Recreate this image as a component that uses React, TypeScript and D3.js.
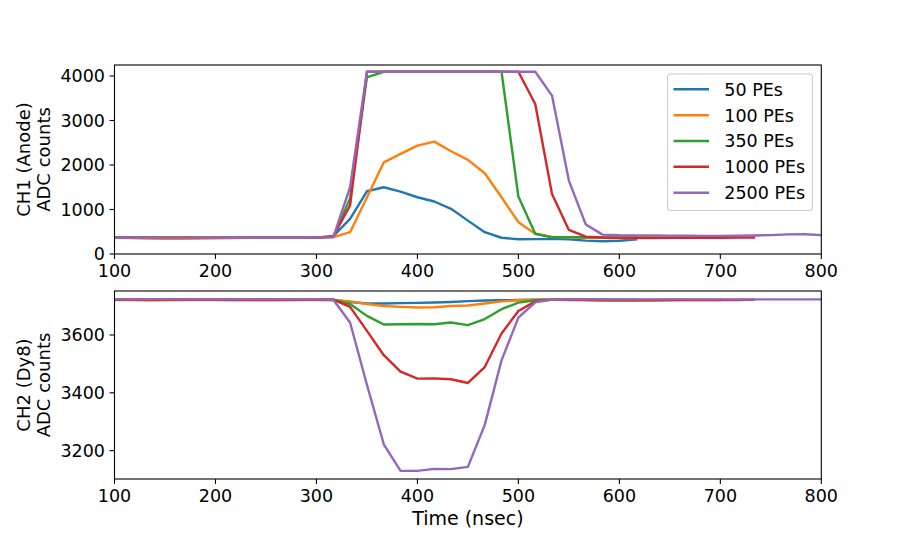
import React from 'react';
import * as d3 from 'd3';

// sample times (nsec), 60 MHz sampling
const times = [
  100, 116.7, 133.3, 150, 166.7, 183.3, 200, 216.7, 233.3, 250, 266.7, 283.3, 300,
  316.7, 333.3, 350, 366.7, 383.3, 400, 416.7, 433.3, 450, 466.7, 483.3, 500,
  516.7, 533.3, 550, 566.7, 583.3, 600, 616.7, 633.3, 650, 666.7, 683.3, 700,
  716.7, 733.3, 750, 766.7, 783.3, 800,
];

const labels = ['50 PEs', '100 PEs', '350 PEs', '1000 PEs', '2500 PEs'];
const colors = ['#1f77b4', '#ff7f0e', '#2ca02c', '#d62728', '#9467bd'];

// CH1 (anode) ADC counts
const ch1_50 = [
  370, 368, 366, 365, 364, 362, 362, 364, 365, 366, 366, 366, 368,
  400, 790, 1410, 1500, 1400, 1275, 1180, 1015, 750, 490, 365, 330, 335,
  340, 330, 300, 285, 297, 330,
];
const ch1_100 = [
  365, 360, 345, 340, 340, 345, 352, 360, 365, 366, 366, 366, 368,
  378, 490, 1270, 2060, 2250, 2435, 2525, 2310, 2115, 1815, 1275, 715, 455, 385,
  370, 365, 362, 360, 360, 360, 362, 365, 368, 370,
];
const ch1_350 = [
  368, 368, 367, 366, 366, 366, 367, 368, 368, 368, 368, 368, 370,
  385, 1250, 3970, 4095, 4095, 4095, 4095, 4095, 4095, 4095, 4095,
  1290, 455, 375, 380,
  378, 372, 368, 366, 365, 365, 366,
];
const ch1_1000 = [
  366, 366, 365, 365, 364, 364, 365, 366, 366, 366, 366, 366, 368,
  400, 1090, 4095, 4095, 4095, 4095, 4095, 4095, 4095, 4095, 4095, 4095,
  3370, 1350, 540, 390,
  370, 366, 364, 362, 362, 362, 364, 366, 368, 370,
];
const ch1_2500 = [
  366, 366, 365, 364, 364, 365, 366, 366, 366, 366, 366, 366, 368,
  380, 1500, 4095, 4095, 4095, 4095, 4095, 4095, 4095, 4095, 4095, 4095, 4095,
  3560, 1650, 665, 435,
  420, 418, 415, 412, 410, 408, 408, 410, 415, 425, 440, 445, 425,
];

// CH2 (Dy8) ADC counts
const ch2_50 = [
  3722, 3722, 3721, 3722, 3722, 3722, 3722, 3721, 3722, 3722, 3722, 3722, 3722,
  3721, 3714, 3709, 3709, 3710, 3711, 3712, 3714, 3717, 3719, 3720, 3721, 3722,
  3722, 3723, 3723, 3722, 3722, 3722,
];
const ch2_100 = [
  3721, 3721, 3720, 3720, 3721, 3721, 3721, 3721, 3721, 3721, 3721, 3721, 3722,
  3721, 3716, 3707, 3700, 3697, 3695, 3696, 3700, 3702, 3709, 3716, 3720, 3722,
  3722, 3721, 3721, 3720, 3720, 3720, 3721, 3721, 3721, 3721, 3721,
];
const ch2_350 = [
  3722, 3722, 3722, 3722, 3722, 3722, 3722, 3722, 3722, 3722, 3722, 3722, 3722,
  3722, 3707, 3666, 3636, 3637, 3638, 3637, 3643, 3634, 3655, 3689, 3712, 3720,
  3722, 3722, 3722, 3722, 3721, 3721, 3721, 3721, 3722,
];
const ch2_1000 = [
  3722, 3722, 3722, 3722, 3722, 3722, 3722, 3722, 3721, 3721, 3721, 3722, 3722,
  3722, 3697, 3614, 3530, 3473, 3449, 3450, 3447, 3434, 3489, 3605, 3683, 3716,
  3722, 3722, 3721, 3720, 3720, 3720, 3720, 3721, 3721, 3721, 3721, 3721, 3722,
];
const ch2_2500 = [
  3723, 3723, 3723, 3723, 3723, 3723, 3723, 3723, 3723, 3723, 3723, 3723, 3723,
  3722, 3643, 3428, 3222, 3130, 3130, 3137, 3136, 3144, 3289, 3512, 3660, 3713,
  3722, 3723, 3723, 3723, 3723, 3723, 3723, 3723, 3723, 3723, 3723, 3723, 3723, 3723, 3723, 3723, 3723,
];

const ch1Series = [ch1_50, ch1_100, ch1_350, ch1_1000, ch1_2500];
const ch2Series = [ch2_50, ch2_100, ch2_350, ch2_1000, ch2_2500];

const xTicks = [100, 200, 300, 400, 500, 600, 700, 800];
const ch1Ticks = [0, 1000, 2000, 3000, 4000];
const ch2Ticks = [3200, 3400, 3600];

const W = 913;
const H = 548;
const FONT = 'DejaVu Sans, sans-serif';
const TICK_FS = 17.5;
const LABEL_FS = 18;
const XLABEL_FS = 19;
const LW = 2.4;

const left = 114.5;
const right = 821.3;

const x = d3.scaleLinear().domain([100, 800]).range([left, right]);

interface PanelProps {
  top: number;
  bottom: number;
  domain: [number, number];
  ticks: number[];
  series: number[][];
  ylabel: [string, string];
}

const Panel: React.FC<PanelProps> = ({ top, bottom, domain, ticks, series, ylabel }) => {
  const y = d3.scaleLinear().domain(domain).range([bottom, top]);
  const line = d3.line<[number, number]>()
    .x(d => x(d[0]))
    .y(d => y(d[1]));
  const clipId = `clip-${Math.round(top)}`;
  const cy = (top + bottom) / 2;
  return (
    <g>
      <defs>
        <clipPath id={clipId}>
          <rect x={left} y={top} width={right - left} height={bottom - top} />
        </clipPath>
      </defs>
      <g clipPath={`url(#${clipId})`}>
        {series.map((vals, i) => (
          <path
            key={i}
            d={line(vals.map((v, j) => [times[j], v] as [number, number])) || ''}
            fill="none"
            stroke={colors[i]}
            strokeWidth={LW}
            strokeLinejoin="round"
            strokeLinecap="square"
          />
        ))}
      </g>
      <rect x={left} y={top} width={right - left} height={bottom - top}
        fill="none" stroke="#000" strokeWidth={1.1} />
      {xTicks.map(t => (
        <g key={t}>
          <line x1={x(t)} x2={x(t)} y1={bottom} y2={bottom + 4.9} stroke="#000" strokeWidth={1.1} />
          <text x={x(t)} y={bottom + 23} textAnchor="middle" fontFamily={FONT} fontSize={TICK_FS}>{t}</text>
        </g>
      ))}
      {ticks.map(t => (
        <g key={t}>
          <line x1={left - 4.9} x2={left} y1={y(t)} y2={y(t)} stroke="#000" strokeWidth={1.1} />
          <text x={left - 9.5} y={y(t)} dy="0.36em" textAnchor="end" fontFamily={FONT} fontSize={TICK_FS}>{t}</text>
        </g>
      ))}
      <text transform={`translate(29.5,${cy}) rotate(-90)`} textAnchor="middle" fontFamily={FONT} fontSize={LABEL_FS}>{ylabel[0]}</text>
      <text transform={`translate(49.5,${cy}) rotate(-90)`} textAnchor="middle" fontFamily={FONT} fontSize={LABEL_FS}>{ylabel[1]}</text>
    </g>
  );
};

const Legend: React.FC = () => {
  const lx = 667.5;
  const ly = 74;
  const rowY = [89.3, 115.2, 141, 166.8, 192.7];
  return (
    <g>
      <rect x={lx} y={ly} width={145} height={136.5} rx={3} ry={3}
        fill="#fff" fillOpacity={0.8} stroke="#cccccc" strokeWidth={1.1} />
      {labels.map((lab, i) => (
        <g key={lab}>
          <line x1={673.5} x2={709} y1={rowY[i]} y2={rowY[i]} stroke={colors[i]} strokeWidth={LW} />
          <text x={724.3} y={rowY[i]} dy="0.36em" fontFamily={FONT} fontSize={TICK_FS}>{lab}</text>
        </g>
      ))}
    </g>
  );
};

export default function App() {
  return (
    <svg width={W} height={H} style={{ position: 'absolute', left: 0, top: 0, background: '#fff' }}>
      <Panel top={65} bottom={254} domain={[0, 4247]} ticks={ch1Ticks} series={ch1Series}
        ylabel={['CH1 (Anode)', 'ADC counts']} />
      <Legend />
      <Panel top={291} bottom={479} domain={[3102, 3752]} ticks={ch2Ticks} series={ch2Series}
        ylabel={['CH2 (Dy8)', 'ADC counts']} />
      <text x={(left + right) / 2} y={525} textAnchor="middle" fontFamily={FONT} fontSize={XLABEL_FS}>Time (nsec)</text>
    </svg>
  );
}
